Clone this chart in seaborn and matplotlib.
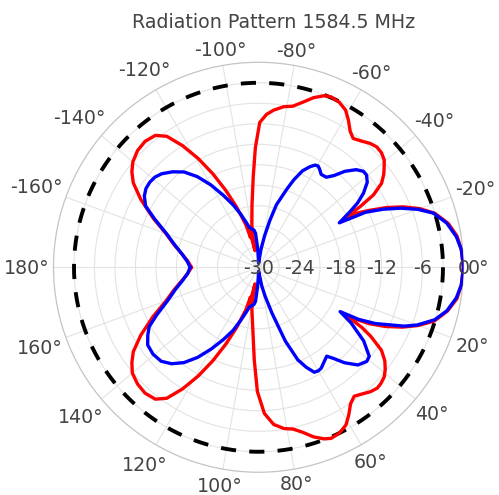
import numpy as np
import pandas as pd
import matplotlib
matplotlib.use("Agg")
import matplotlib.pyplot as plt
import seaborn as sns

# Diagrama de radiação (dB)
red_theta = [-180, -175, -170, -165, -160, -155, -150, -146, -143, -140, -136, -132, -128, -125,
             -122, -119, -116, -113, -110, -108, -106.5, -105, -103.5, -102, -100.5, -99, -96,
             -93.3, -91.5, -89.5, -87, -84.5, -81, -78, -75, -72, -69, -67, -64, -61, -58.5,
             -56, -53.7, -51, -48, -45.5, -43, -40.5, -38.5, -36.5, -34.3, -32.2, -30.8, -29.8,
             -28.5, -27.2, -25, -22.6, -20, -17, -13, -9, -5, 0,
             5, 9, 13, 17, 20, 22.6, 25, 27, 28.9, 30.2, 31.6, 34, 36.5, 38.8, 41, 43.5, 45.5,
             48, 51, 53.4, 56, 58.5, 61, 64, 67, 69, 72, 75, 78, 81, 84.5, 87.7, 90.5, 92.6,
             95.6, 99, 100.5, 102, 103.5, 105, 106.5, 108, 110, 113, 116, 119, 122, 125, 128,
             132, 136, 140, 143, 146, 150, 155, 160, 165, 170, 175, 180]
red_db = [-20.2, -19.6, -18.6, -17.2, -15.6, -13.0, -10.1, -7.9, -6.8, -6.0, -5.4, -5.2, -5.5, -6.6,
          -9.0, -11.8, -14.8, -17.8, -20.6, -22.5, -23.5, -25.5, -24.5, -27.5, -25.5, -23.8, -20.9,
          -16.7, -12.5, -8.8, -7.6, -6.9, -6.2, -5.9, -5.0, -3.9, -3.1, -2.9, -3.1, -3.7, -4.8,
          -6.0, -6.6, -6.2, -5.6, -5.3, -5.4, -5.8, -6.5, -7.2, -8.2, -10.1, -12.7, -15.3,
          -13.2, -11.8, -9.3, -7.0, -4.9, -3.0, -1.5, -0.6, -0.2, 0.0,
          -0.2, -0.6, -1.6, -3.1, -5.1, -7.2, -9.5, -11.8, -15.1, -12.5, -10.7, -8.3, -7.0, -6.2,
          -5.6, -5.3, -5.2, -5.5, -6.1, -6.5, -5.9, -4.7, -3.6, -3.0, -2.8, -3.1, -3.9, -5.0,
          -5.8, -6.1, -6.9, -8.6, -11.8, -16.4, -21.3, -23.8, -25.5, -27.5, -24.5, -25.5, -23.5,
          -22.5, -20.6, -17.8, -14.8, -11.8, -9.0, -6.6, -5.5, -5.2, -5.4, -5.9, -6.8, -7.9,
          -10.1, -13.0, -15.6, -17.2, -18.6, -19.6, -20.2]

blue_theta = [-180, -175, -170, -165, -160, -155, -151.5, -148, -145, -142, -139, -136, -132, -128,
              -124, -120, -116, -112, -108.5, -105, -103, -100, -97, -95, -93, -91, -88, -85, -82,
              -79, -76.3, -74, -72, -70, -68, -65.5, -63, -61, -59.5, -58, -56, -53, -50.5, -48,
              -45, -42.5, -40.5, -38, -35.2, -33, -31.3, -28.8, -27.2, -25, -22.6, -20, -17.2,
              -13.2, -8.8, -5, 0,
              5, 8.8, 13, 16.6, 20, 22, 25.7, 27.5, 28.5, 31, 35, 38.8, 41, 44.5, 48, 50.5, 52.5,
              55, 58.2, 60, 62, 64.5, 67, 70, 73.6, 77, 80, 84, 88, 91, 93, 95, 97, 100, 103, 105,
              108.5, 112, 116, 120, 124, 128, 132, 136, 140.5, 145, 148.5, 151.5, 155, 160, 165,
              170, 175, 180]
blue_db = [-20.0, -19.5, -18.6, -17.3, -15.7, -13.2, -11.2, -10.3, -9.9, -9.8, -9.9, -10.3, -11.2, -12.3,
           -14.0, -16.1, -18.3, -20.2, -21.8, -23.3, -24.0, -24.3, -24.5, -25.0, -27.0, -28.4, -29.4,
           -29.0, -27.3, -25.3, -22.9, -20.5, -19.3, -17.8, -16.2, -14.5, -13.5, -12.9, -12.8, -13.1,
           -13.6, -13.5, -12.6, -11.1, -9.8, -9.2, -9.2, -9.8, -11.2, -12.7, -14.3, -16.5, -12.4,
           -9.9, -7.5, -5.2, -3.2, -1.7, -0.7, -0.2, 0.0,
           -0.2, -0.7, -1.7, -3.1, -5.3, -7.0, -11.0, -13.5, -16.4, -14.2, -11.2, -9.2, -9.0, -9.6,
           -11.2, -12.7, -13.6, -13.2, -12.6, -12.5, -12.6, -13.8, -15.3, -18.5, -23.0, -25.6, -27.2,
           -29.0, -29.4, -28.4, -27.0, -25.0, -24.5, -24.3, -24.0, -23.3, -21.8, -20.0, -18.2, -16.2,
           -14.1, -12.3, -11.0, -10.2, -10.0, -10.2, -11.0, -11.8, -13.6, -15.9, -17.4, -18.7, -19.6,
           -20.0]

ref_level = -3  # circulo tracejado de -3 dB
r_min, r_max = -30, 0
r_grid = [-27, -24, -21, -18, -15, -12, -9, -6, -3]
r_labels = [-30, -24, -18, -12, -6, 0]
ang_ticks = list(range(0, 360, 20))
ang_labels = [f"{a if a <= 180 else a - 360}°" for a in ang_ticks]

sns.set_theme(style="white")
plt.rcParams['font.family'] = ['DejaVu Sans']
txt = '#444444'
fs = 13.7
cap = 0.73 * fs  # altura das letras em pt

fig = plt.figure(figsize=(4.99, 4.95), dpi=100)
ax = fig.add_axes([0.1072, 0.0459, 0.8216, 0.8283], projection='polar')
ax.set_theta_zero_location('E')
ax.set_theta_direction(-1)
ax.set_ylim(r_min, r_max)
ax.set_facecolor('white')

ax.set_thetagrids(ang_ticks, [''] * len(ang_ticks))
ax.set_rgrids(r_grid, [''] * len(r_grid))
ax.grid(True, color='#e3e3e3', lw=0.8)
ax.spines['polar'].set_color('#c4c4c4')
ax.spines['polar'].set_linewidth(0.9)

# rótulos do eixo radial sobre a linha de 0°
for r in r_labels:
    ax.annotate(str(r), xy=(0, r), xytext=(0, -cap / 2), textcoords='offset points',
                ha='center', va='baseline', fontsize=fs, color=txt, zorder=6)

# rótulos angulares posicionados fora do círculo
renderer = fig.canvas.get_renderer()
pad = 3.0  # pt
for a, lab in zip(ang_ticks, ang_labels):
    t = ax.annotate(lab, xy=(np.deg2rad(a), r_max), xytext=(0, 0), textcoords='offset points',
                    ha='center', va='baseline', fontsize=fs, color=txt, annotation_clip=False)
    w = t.get_window_extent(renderer).width * 72 / fig.dpi
    c, s = np.cos(np.deg2rad(a)), -np.sin(np.deg2rad(a))
    d = pad + abs(c) * w / 2 + abs(s) * (cap / 2 + 0.5)
    t.xyann = (d * c, d * s - cap / 2)

# nível de referência
circ = np.linspace(0, 2 * np.pi, 361)
ax.plot(circ, np.full_like(circ, ref_level), color='black', lw=2.8,
        dashes=(3.9, 3.4), dash_capstyle='butt', zorder=2)

df_red = pd.DataFrame({'theta': np.deg2rad(red_theta), 'dB': red_db})
df_blue = pd.DataFrame({'theta': np.deg2rad(blue_theta), 'dB': blue_db})
sns.lineplot(data=df_red, x='theta', y='dB', ax=ax, sort=False, estimator=None,
             color='#ff0000', lw=2.4, zorder=3)
sns.lineplot(data=df_blue, x='theta', y='dB', ax=ax, sort=False, estimator=None,
             color='#0000ff', lw=2.4, zorder=4)
ax.set_xlabel('')
ax.set_ylabel('')

fig.text(273.5 / 499, 1 - 28.3 / 495, 'Radiation Pattern 1584.5 MHz', ha='center',
         va='baseline', fontsize=fs, color=txt)

fig.savefig('out.png', dpi=100)
